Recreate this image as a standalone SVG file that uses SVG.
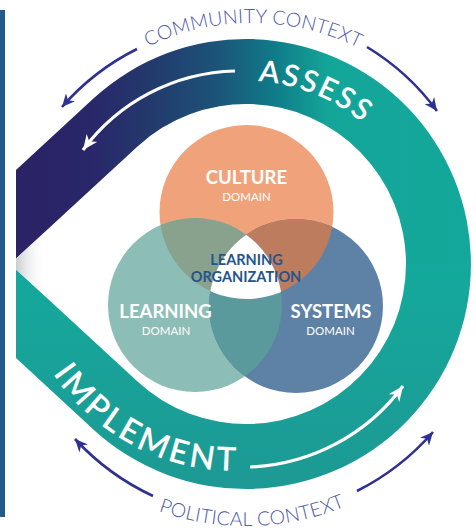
<svg xmlns="http://www.w3.org/2000/svg" xmlns:xlink="http://www.w3.org/1999/xlink" width="476" height="531" viewBox="0 0 476 531">
<defs>
<style>
.ctx{font-family:Lato,"Open Sans","Liberation Sans",sans-serif;font-weight:300;font-size:19.5px;fill:#4d58a6;letter-spacing:0.2px}
.band{font-family:Lato,"Open Sans","Liberation Sans",sans-serif;font-weight:600;fill:#ffffff}
.dom{font-family:Lato,"Open Sans","Liberation Sans",sans-serif;font-weight:700;font-size:18.5px;fill:#ffffff;text-anchor:middle}
.sub{font-family:Lato,"Open Sans","Liberation Sans",sans-serif;font-weight:400;font-size:11.5px;fill:#ffffff;text-anchor:middle}
.org{font-family:Lato,"Open Sans","Liberation Sans",sans-serif;font-weight:700;font-size:14.5px;fill:#24558b;text-anchor:middle}
.navy{fill:none;stroke:#2e3192;stroke-width:2.6;marker-end:url(#mN)}
.wht{fill:none;stroke:#ffffff;stroke-width:3.2;marker-end:url(#mW)}
</style>
<linearGradient id="gUp" gradientUnits="userSpaceOnUse" x1="16" y1="0" x2="476" y2="0">
<stop offset="0" stop-color="#2a2365"/>
<stop offset="0.16" stop-color="#29266a"/>
<stop offset="0.29" stop-color="#23396c"/>
<stop offset="0.44" stop-color="#1c5479"/>
<stop offset="0.56" stop-color="#0f7b88"/>
<stop offset="0.68" stop-color="#14a599"/>
<stop offset="1" stop-color="#13a89b"/>
</linearGradient>
<linearGradient id="gLow" gradientUnits="userSpaceOnUse" x1="0" y1="264" x2="0" y2="490">
<stop offset="0" stop-color="#14a99c"/>
<stop offset="1" stop-color="#1d9994"/>
</linearGradient>
<linearGradient id="gShade" gradientUnits="userSpaceOnUse" x1="16" y1="0" x2="46" y2="0">
<stop offset="0" stop-color="#c9cdd0"/>
<stop offset="1" stop-color="#ffffff" stop-opacity="0"/>
</linearGradient>
<clipPath id="cTop"><rect x="0" y="0" width="476" height="264"/></clipPath>
<clipPath id="cBot"><rect x="0" y="264" width="476" height="267"/></clipPath>
<clipPath id="cC"><circle cx="246.5" cy="212" r="87"/></clipPath>
<clipPath id="cL"><circle cx="195" cy="305" r="87"/></clipPath>
<path id="ring" fill-rule="evenodd" d="M16,170 L93.4,98.6 A225,225 0 1,1 93.4,429.4 L16,358 Z M16,258.5 L137.5,146.4 A160,160 0 1,1 137.5,381.6 L16,269.5 Z"/>
<path id="pAssess" d="M258.1,81.4 A183,183 0 0,1 404.5,172.5"/>
<path id="pImpl" d="M52.8,373.6 A221,221 0 0,0 362.8,431"/>
<path id="pComm" d="M148,46.8 A239,239 0 0,1 405.6,78.9"/>
<path id="pPol" d="M158.5,511 A262,262 0 0,0 396.3,478.6"/>
<marker id="mN" markerUnits="userSpaceOnUse" markerWidth="13" markerHeight="12" refX="13" refY="6" orient="auto" viewBox="0 0 13 12">
<path d="M0,0 L13,6 L0,12 L4,6 Z" fill="#2e3192"/>
</marker>
<marker id="mW" markerUnits="userSpaceOnUse" markerWidth="15" markerHeight="13" refX="15" refY="6.5" orient="auto" viewBox="0 0 15 13">
<path d="M0,0 L15,6.5 L0,13 L4.5,6.5 Z" fill="#ffffff"/>
</marker>
</defs>

<rect id="side-bar" x="0" y="10" width="5" height="507" fill="#235a8a"/>

<g id="cycle-ring">
<use xlink:href="#ring" href="#ring" fill="url(#gLow)" clip-path="url(#cBot)"/>
<use xlink:href="#ring" href="#ring" fill="url(#gUp)" clip-path="url(#cTop)"/>
<polygon points="16,258.5 50,227.1 50,300.9 16,269.5" fill="url(#gShade)"/>
</g>

<g id="connectors">
<path class="navy" d="M137,49 A243,243 0 0,0 62,107"/>
<path class="navy" d="M367,47 A243,243 0 0,1 437,111"/>
<path class="navy" d="M153,496 A250,250 0 0,1 75,439"/>
<path class="navy" d="M357,491 A250,250 0 0,0 433,432"/>
<path class="wht" d="M235,71 A195,195 0 0,0 83,150"/>
<path class="wht" d="M250,467 A200,200 0 0,0 403,386"/>
</g>

<g id="assess">
<text class="band" font-size="30" letter-spacing="2"><textPath xlink:href="#pAssess" href="#pAssess">ASSESS</textPath></text>
</g>
<g id="implement">
<text class="band" font-size="33" letter-spacing="3"><textPath xlink:href="#pImpl" href="#pImpl">IMPLEMENT</textPath></text>
</g>
<g id="community-context">
<text class="ctx"><textPath xlink:href="#pComm" href="#pComm">COMMUNITY CONTEXT</textPath></text>
</g>
<g id="political-context">
<text class="ctx"><textPath xlink:href="#pPol" href="#pPol">POLITICAL CONTEXT</textPath></text>
</g>

<g id="venn">
<circle cx="246.5" cy="212" r="87" fill="#f0a37a"/>
<circle cx="195" cy="305" r="87" fill="#8cbeb7"/>
<circle cx="296" cy="306" r="87" fill="#5e82a6"/>
<circle cx="195" cy="305" r="87" fill="#88a28e" clip-path="url(#cC)"/>
<circle cx="296" cy="306" r="87" fill="#bd7c5e" clip-path="url(#cC)"/>
<circle cx="296" cy="306" r="87" fill="#5a999c" clip-path="url(#cL)"/>
<g clip-path="url(#cC)"><circle cx="296" cy="306" r="87" fill="#ffffff" clip-path="url(#cL)"/></g>
</g>

<g id="culture">
<text class="dom" x="246.5" y="184">CULTURE</text>
<text class="sub" x="246.5" y="200.5">DOMAIN</text>
</g>
<g id="learning">
<text class="dom" x="165.5" y="318">LEARNING</text>
<text class="sub" x="166" y="334.5">DOMAIN</text>
</g>
<g id="systems">
<text class="dom" x="331" y="318">SYSTEMS</text>
<text class="sub" x="330.5" y="334.5">DOMAIN</text>
</g>
<g id="learning-organization">
<text class="org" x="246.5" y="265">LEARNING</text>
<text class="org" x="246" y="282">ORGANIZATION</text>
</g>
</svg>
